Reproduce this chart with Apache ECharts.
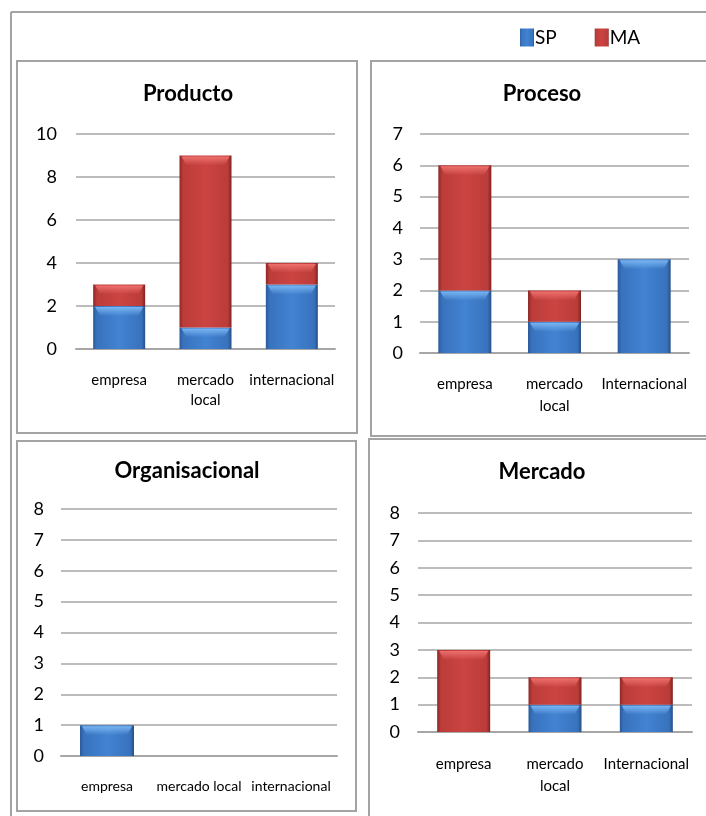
<!DOCTYPE html>
<html>
<head>
<meta charset="utf-8">
<script src="https://cdn.jsdelivr.net/npm/echarts@6/dist/echarts.min.js"></script>
<style>
  html, body { margin: 0; padding: 0; background: #ffffff; }
  #chart { width: 706px; height: 816px; }
</style>
</head>
<body>
<div id="chart"></div>
<script>
// Series and panel data
const seriesNames = ['SP', 'MA'];
const panelTitles = ['Producto', 'Proceso', 'Organisacional', 'Mercado'];

const categoriesProducto = ['empresa', 'mercado local', 'internacional'];
const categoriesProceso = ['empresa', 'mercado local', 'Internacional'];
const categoriesOrganisacional = ['empresa', 'mercado local', 'internacional'];
const categoriesMercado = ['empresa', 'mercado local', 'Internacional'];

const spProducto = [2, 1, 3];
const maProducto = [1, 8, 1];
const spProceso = [2, 1, 3];
const maProceso = [4, 1, 0];
const spOrganisacional = [1, 0, 0];
const maOrganisacional = [0, 0, 0];
const spMercado = [0, 1, 1];
const maMercado = [3, 1, 1];

const yAxisMax = [10, 7, 8, 8];
const yAxisInterval = [2, 1, 1, 1];

// Layout of the four panels
const panels = [
  { cats: categoriesProducto, sp: spProducto, ma: maProducto,
    grid: { left: 76, top: 134, width: 259, height: 215 },
    box: [17, 61, 340, 372], titleXY: [188, 94], barWidth: 52,
    wrap: true, labelMargin: 21, lineHeight: 20, xFont: 15, yMargin: 19 },
  { cats: categoriesProceso, sp: spProceso, ma: maProceso,
    grid: { left: 420, top: 134, width: 269, height: 219 },
    box: [371, 61, 360, 375], titleXY: [542, 94], barWidth: 53,
    wrap: true, labelMargin: 20, lineHeight: 22, xFont: 15, yMargin: 17 },
  { cats: categoriesOrganisacional, sp: spOrganisacional, ma: maOrganisacional,
    grid: { left: 61, top: 509, width: 276, height: 247 },
    box: [17, 441, 339, 370], titleXY: [187, 471], barWidth: 54,
    wrap: false, labelMargin: 20, lineHeight: 20, xFont: 14, yMargin: 17 },
  { cats: categoriesMercado, sp: spMercado, ma: maMercado,
    grid: { left: 418, top: 513, width: 274, height: 219 },
    box: [369, 439, 360, 400], titleXY: [542, 472], barWidth: 53,
    wrap: true, labelMargin: 21, lineHeight: 22, xFont: 15, yMargin: 18 }
];

const FONT = 'Lato';
const GRID_GRAY = '#a6a6a6';
const FRAME_GRAY = '#a3a3a3';

const blueFill = new echarts.graphic.LinearGradient(0, 0, 1, 0, [
  { offset: 0, color: '#2a5a98' },
  { offset: 0.07, color: '#3872bd' },
  { offset: 0.5, color: '#4283d2' },
  { offset: 0.93, color: '#3872bd' },
  { offset: 1, color: '#284f86' }
]);
const redFill = new echarts.graphic.LinearGradient(0, 0, 1, 0, [
  { offset: 0, color: '#8c2826' },
  { offset: 0.07, color: '#bb3c39' },
  { offset: 0.5, color: '#cb4442' },
  { offset: 0.93, color: '#bb3c39' },
  { offset: 1, color: '#7f2220' }
]);
const shineColors = [
  ['rgba(125,185,245,0.95)', 'rgba(125,185,245,0)'],
  ['rgba(240,115,112,0.95)', 'rgba(240,115,112,0)']
];

const grids = [], xAxes = [], yAxes = [], series = [], graphics = [];

// Outer frame lines
graphics.push({ type: 'line', silent: true,
  shape: { x1: 11, y1: 12, x2: 706, y2: 12 },
  style: { stroke: FRAME_GRAY, lineWidth: 2 } });
graphics.push({ type: 'line', silent: true,
  shape: { x1: 11, y1: 12, x2: 11, y2: 816 },
  style: { stroke: FRAME_GRAY, lineWidth: 2 } });

panels.forEach((p, i) => {
  grids.push(Object.assign({ outerBoundsMode: 'none', containLabel: false }, p.grid));

  xAxes.push({
    type: 'category', gridIndex: i, data: p.cats,
    axisTick: { show: false },
    axisLine: { lineStyle: { color: GRID_GRAY, width: 2 } },
    axisLabel: {
      interval: 0, margin: p.labelMargin, color: '#000', fontFamily: FONT,
      fontSize: p.xFont, lineHeight: p.lineHeight,
      formatter: v => p.wrap ? v.replace(' ', '\n') : v
    }
  });

  yAxes.push({
    type: 'value', gridIndex: i, min: 0, max: yAxisMax[i], interval: yAxisInterval[i],
    axisLine: { show: false }, axisTick: { show: false },
    splitLine: { lineStyle: { color: GRID_GRAY, width: 1.5 } },
    axisLabel: { margin: p.yMargin, color: '#000', fontFamily: FONT, fontSize: 18 }
  });

  series.push({
    name: seriesNames[0], type: 'bar', stack: 'total' + i,
    xAxisIndex: i, yAxisIndex: i, data: p.sp, barWidth: p.barWidth,
    itemStyle: { color: blueFill }, z: 3
  });
  series.push({
    name: seriesNames[1], type: 'bar', stack: 'total' + i,
    xAxisIndex: i, yAxisIndex: i, data: p.ma, barWidth: p.barWidth,
    itemStyle: { color: redFill }, z: 3
  });

  // Bevel highlight along the top of every stacked segment
  const shineData = [];
  p.cats.forEach((c, k) => {
    if (p.sp[k] > 0) shineData.push([k, 0, p.sp[k], 0]);
    if (p.ma[k] > 0) shineData.push([k, p.sp[k], p.ma[k], 1]);
  });
  series.push({
    type: 'custom', xAxisIndex: i, yAxisIndex: i, silent: true, z: 4,
    data: shineData,
    encode: { x: 0, y: [1, 2] },
    renderItem: (params, api) => {
      const k = api.value(0), base = api.value(1), val = api.value(2), kind = api.value(3);
      const top = api.coord([k, base + val]);
      const bottom = api.coord([k, base]);
      const w = p.barWidth;
      const h = Math.min(10, (bottom[1] - top[1]) * 0.45);
      const x0 = top[0] - w / 2;
      const cols = shineColors[kind];
      return {
        type: 'polygon',
        shape: { points: [[x0 + 2, top[1] + 1], [x0 + w - 2, top[1] + 1],
                          [x0 + w - 7, top[1] + h], [x0 + 7, top[1] + h]] },
        style: {
          fill: new echarts.graphic.LinearGradient(0, 0, 0, 1, [
            { offset: 0, color: cols[0] }, { offset: 1, color: cols[1] }
          ])
        }
      };
    }
  });

  // Panel frame
  graphics.push({ type: 'rect', silent: true, z: -1,
    shape: { x: p.box[0], y: p.box[1], width: p.box[2], height: p.box[3] },
    style: { fill: 'none', stroke: FRAME_GRAY, lineWidth: 2 } });

  // Panel title
  graphics.push({ type: 'text', silent: true,
    x: p.titleXY[0], y: p.titleXY[1],
    style: { text: panelTitles[i], fontFamily: FONT, fontWeight: 'bold', fontSize: 22,
      fill: '#000', align: 'center', verticalAlign: 'middle' } });
});

const chart = echarts.init(document.getElementById('chart'), null, { renderer: 'canvas' });
chart.setOption({
  backgroundColor: '#ffffff',
  animation: false,
  legend: {
    data: seriesNames, left: 515, top: 23, icon: 'rect',
    itemWidth: 14, itemHeight: 18, itemGap: 38, selectedMode: false,
    textStyle: { fontFamily: FONT, fontSize: 19, color: '#000', padding: [0, 0, 0, -4] }
  },
  grid: grids, xAxis: xAxes, yAxis: yAxes, series: series, graphic: graphics
});
</script>
</body>
</html>
